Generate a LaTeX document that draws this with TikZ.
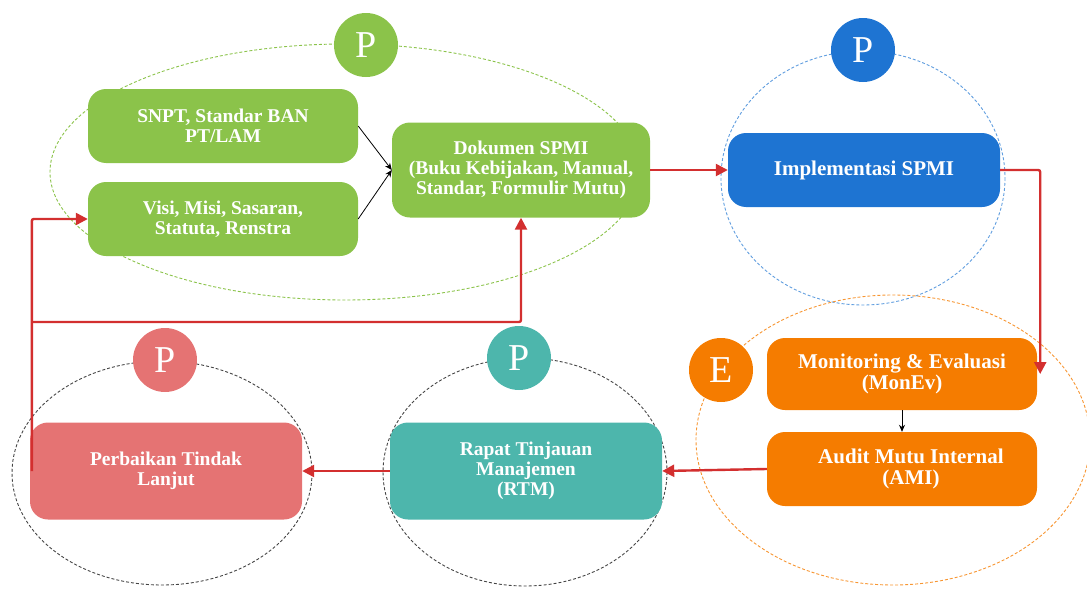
\documentclass[tikz,border=0pt]{standalone}
\usepackage{fontspec}
\setmainfont{Liberation Serif}
\usetikzlibrary{arrows.meta,positioning}

\definecolor{hijau}{HTML}{8BC34A}
\definecolor{biru}{HTML}{1E74D2}
\definecolor{oranye}{HTML}{F57C00}
\definecolor{merahmuda}{HTML}{E57373}
\definecolor{tosca}{HTML}{4DB6AC}
\definecolor{panah}{HTML}{D32F2F}
\definecolor{putus}{HTML}{444444}

\tikzset{
  kotak/.style={rounded corners=18pt, text=white, align=center,
    font=\bfseries\fontsize{19.5}{20}\selectfont,
    minimum width=270pt, minimum height=74pt, inner sep=2pt},
  lebar/.style={font=\bfseries\fontsize{21}{21}\selectfont},
  bulat/.style={circle, minimum size=64pt, inner sep=0pt, text=white,
    font=\fontsize{38}{38}\selectfont},
  garis/.style={line width=0.9pt, dash pattern=on 3pt off 2pt},
  merah/.style={draw=panah, line width=2.4pt, rounded corners=2pt,
    -{Triangle[length=12pt,width=12pt]}},
  hitam/.style={line width=0.8pt, -{Stealth[length=7pt,width=6pt]}}
}

\begin{document}
\begin{tikzpicture}[x=1pt,y=-1pt]
\useasboundingbox (0,0) rectangle (1087,589);

% lingkaran putus-putus
\draw[garis, draw=hijau] (345,172) ellipse [x radius=295, y radius=128];
\draw[garis, draw=biru!70] (863,178) ellipse [x radius=142, y radius=127];
\draw[garis, draw=oranye!80] (893,440) ellipse [x radius=197, y radius=145];
\draw[garis, draw=putus] (525,472) ellipse [x radius=142, y radius=114];
\draw[garis, draw=putus] (162,473) ellipse [x radius=150, y radius=112];

% kotak proses
\node[kotak, fill=hijau] (snpt) at (223,126) {SNPT, Standar BAN\\PT/LAM};
\node[kotak, fill=hijau] (visi) at (223,219) {Visi, Misi, Sasaran,\\Statuta, Renstra};
\node[kotak, fill=hijau, minimum width=258pt, minimum height=95pt] (dok) at (521,170)
  {Dokumen SPMI\\(Buku Kebijakan, Manual,\\Standar, Formulir Mutu)};
\node[kotak, lebar, fill=biru, minimum width=272pt] (impl) at (864,170) {Implementasi SPMI};
\node[kotak, lebar, fill=oranye, minimum height=72pt] (monev) at (902,374)
  {Monitoring \& Evaluasi\\(MonEv)};
\node[kotak, lebar, fill=oranye] (ami) at (902,469) {\hspace*{18pt}Audit Mutu Internal\\\hspace*{18pt}(AMI)};
\node[kotak, fill=tosca, minimum width=272pt, minimum height=97pt] (rtm) at (526,471)
  {Rapat Tinjauan\\Manajemen\\(RTM)};
\node[kotak, fill=merahmuda, minimum width=272pt, minimum height=97pt] (pbk) at (166,471)
  {Perbaikan Tindak\\Lanjut};

% label siklus
\node[bulat, fill=hijau] (p1) at (366,45) {P};
\node[bulat, fill=biru] (p2) at (863,50) {P};
\node[bulat, fill=oranye] (e1) at (721,370) {E};
\node[bulat, fill=tosca] (p3) at (519,358) {P};
\node[bulat, fill=merahmuda] (p4) at (165,360) {P};

% panah
\draw[hitam] (snpt.east) -- (dok.west);
\draw[hitam] (visi.east) -- (dok.west);
\draw[hitam] (monev.south) -- (ami.north);
\draw[merah] (dok.east) -- (impl.west);
\draw[merah] (impl.east) -| ([xshift=3pt]monev.east);
\draw[merah] (ami.west) -- (rtm.east);
\draw[merah] (rtm.west) -- (pbk.east);
\coordinate (cabang) at (32,322);
\draw[merah] ([xshift=2pt]pbk.west) |- (visi.west);
\draw[merah] (cabang) -| (dok.south);
\end{tikzpicture}
\end{document}
